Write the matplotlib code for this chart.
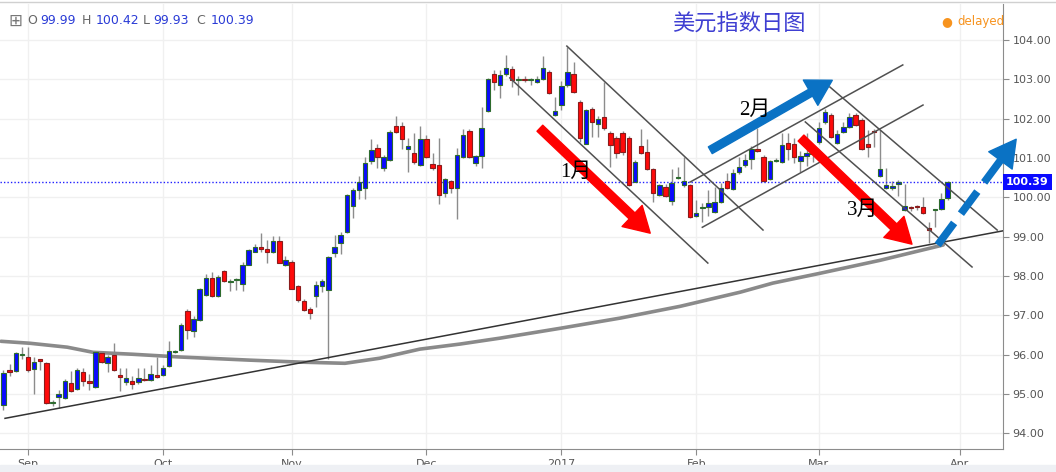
import matplotlib
matplotlib.use("Agg")
import matplotlib.pyplot as plt
import numpy as np
from matplotlib.lines import Line2D
from matplotlib.patches import Rectangle
from matplotlib.transforms import blended_transform_factory

# weekday index, 0 = 2016-09-01, first candle is four weekdays earlier
first_day = -4
opens = [
    94.72, 95.60, 95.58, 96.00,
    95.94, 95.64, 95.88, 95.79, 94.78, 94.93, 94.90, 95.29, 95.12, 95.55,   # 0
    95.32, 95.18, 96.04, 95.78, 95.98, 95.47, 95.30, 95.32, 95.30, 95.38,   # 10
    95.35, 95.47, 95.48, 95.70, 96.08, 96.11, 97.11, 96.60, 96.88, 97.51,   # 20
    97.96, 97.49, 98.13, 97.86, 97.89, 97.81, 98.28, 98.62, 98.74, 98.68,   # 30
    98.60, 98.90, 98.28, 98.36, 97.75, 97.36, 97.16, 97.49, 97.75, 97.64,   # 40
    98.59, 98.83, 99.12, 99.78, 100.20, 100.25, 100.93, 101.26, 100.74, 100.95,  # 50
    101.81, 101.81, 101.24, 101.13, 100.82, 101.48, 100.85, 100.82, 100.10, 100.42,  # 60
    100.23, 101.03, 101.69, 100.87, 101.05, 102.20, 103.15, 102.87, 103.13, 103.26,  # 70
    102.98, 103.02, 102.99, 102.94, 103.01, 103.20, 102.09, 102.35, 102.86, 103.15,  # 80
    102.42, 101.37, 102.26, 101.86, 102.05, 101.65, 101.50, 101.63, 101.52, 100.40,  # 90
    101.32, 101.15, 100.71, 100.06, 100.27, 99.91, 100.49, 100.31, 100.31, 99.52,   # 100
    99.74, 99.76, 99.63, 99.89, 100.42, 100.21, 100.65, 100.82, 100.97, 101.24,     # 110
    101.03, 100.46, 100.93, 100.91, 101.39, 101.36, 100.93, 101.05, 101.10, 101.41,  # 120
    101.92, 102.09, 101.39, 101.67, 101.78, 102.09, 101.98, 101.37, 101.70, 100.54,  # 130
    100.23, 100.25, 100.34, 99.68, 99.75, 99.77, 99.76, 99.22, 99.67, 99.70,        # 140
    99.99,                                                                           # 150
]
highs = [
    95.60, 95.75, 96.08, 96.20,
    96.20, 95.94, 95.90, 95.82, 94.85, 95.10, 95.38, 95.58, 95.66, 95.66,
    95.50, 96.07, 96.08, 96.00, 96.30, 95.66, 95.66, 95.45, 95.66, 95.66,
    95.74, 95.95, 95.74, 96.35, 96.12, 96.80, 97.17, 96.98, 97.70, 98.06,
    98.10, 98.03, 98.15, 97.92, 97.95, 98.36, 98.70, 98.81, 99.10, 98.91,
    99.02, 99.02, 98.50, 98.42, 97.78, 97.42, 97.20, 97.87, 97.93, 98.52,
    99.04, 99.12, 100.08, 100.23, 100.55, 101.02, 101.48, 101.37, 101.08, 101.72,
    102.07, 101.92, 101.50, 101.63, 101.81, 101.59, 101.12, 101.50, 100.49, 100.44,
    101.25, 101.73, 101.75, 101.08, 102.30, 103.05, 103.24, 103.24, 103.62, 103.35,
    103.10, 103.10, 103.04, 103.10, 103.60, 103.25, 102.56, 102.96, 103.83, 103.45,
    102.48, 102.26, 102.31, 102.07, 102.94, 101.70, 101.55, 101.69, 101.57, 100.95,
    101.74, 101.48, 100.74, 100.35, 100.33, 100.72, 100.77, 101.03, 100.33, 99.93,
    99.85, 100.19, 100.27, 100.36, 100.63, 100.72, 101.03, 101.10, 101.32, 101.76,
    101.07, 100.95, 100.99, 101.63, 101.63, 101.50, 101.17, 101.63, 101.30, 101.93,
    102.24, 102.14, 101.71, 101.93, 102.14, 102.15, 102.01, 101.71, 101.74, 101.71,
    100.74, 100.42, 100.45, 100.34, 99.78, 99.81, 100.00, 99.38, 99.71, 100.10,
    100.42,
]
lows = [
    94.59, 95.45, 95.55, 95.90,
    95.56, 95.00, 95.60, 94.74, 94.70, 94.65, 94.88, 95.05, 95.10, 95.20,
    95.10, 95.16, 95.78, 95.55, 95.58, 95.08, 95.24, 95.12, 95.26, 95.33,
    95.33, 95.40, 95.46, 95.68, 96.05, 96.10, 96.41, 96.45, 96.86, 97.48,
    97.47, 97.47, 97.86, 97.62, 97.65, 97.63, 98.27, 98.60, 98.60, 98.34,
    98.58, 98.32, 98.26, 97.66, 97.35, 97.11, 96.90, 97.22, 97.60, 95.90,
    98.49, 98.55, 99.10, 99.47, 99.96, 99.96, 100.86, 100.74, 100.66, 100.93,
    101.64, 101.23, 100.65, 100.86, 100.80, 101.01, 100.70, 99.83, 100.00, 100.10,
    99.44, 101.01, 101.00, 100.80, 100.74, 102.18, 102.73, 102.52, 103.10, 102.80,
    102.60, 102.94, 102.86, 102.92, 102.99, 102.63, 102.07, 102.22, 102.82, 102.65,
    101.42, 101.35, 101.53, 101.53, 101.72, 100.78, 100.99, 101.08, 100.29, 100.38,
    101.10, 100.69, 99.89, 100.03, 100.00, 99.80, 100.46, 100.27, 99.47, 99.50,
    99.38, 99.52, 99.60, 99.85, 100.21, 100.20, 100.60, 100.78, 100.72, 101.15,
    100.40, 100.44, 100.91, 100.88, 100.96, 100.88, 100.65, 100.80, 100.90, 101.36,
    101.88, 101.50, 101.36, 101.63, 101.76, 101.82, 101.20, 101.03, 101.29, 100.51,
    100.21, 100.18, 100.03, 99.66, 99.66, 99.68, 99.59, 98.84, 99.25, 99.68,
    99.93,
]
closes = [
    95.54, 95.56, 96.03, 96.02,
    95.61, 95.82, 95.84, 94.77, 94.80, 94.99, 95.33, 95.08, 95.61, 95.33,
    95.29, 96.07, 95.82, 95.95, 95.61, 95.44, 95.40, 95.25, 95.40, 95.35,
    95.50, 95.42, 95.65, 96.10, 96.10, 96.75, 96.62, 96.90, 97.68, 97.94,
    97.49, 97.98, 97.88, 97.88, 97.91, 98.28, 98.66, 98.74, 98.70, 98.60,
    98.89, 98.34, 98.42, 97.68, 97.39, 97.13, 97.05, 97.78, 97.87, 98.49,
    98.74, 99.04, 100.06, 100.20, 100.40, 100.87, 101.20, 101.03, 101.03, 101.67,
    101.67, 101.48, 101.31, 100.91, 101.48, 101.03, 100.74, 100.06, 100.47, 100.23,
    101.08, 101.59, 101.02, 101.05, 101.76, 103.01, 102.94, 103.11, 103.28, 102.98,
    103.02, 102.98, 103.00, 103.01, 103.28, 102.65, 102.20, 102.84, 103.20, 102.69,
    101.50, 102.22, 101.91, 101.99, 101.76, 101.33, 101.14, 101.16, 100.31, 100.91,
    101.14, 100.71, 100.12, 100.31, 100.03, 100.37, 100.51, 100.42, 99.51, 99.61,
    99.76, 99.85, 99.89, 100.23, 100.25, 100.63, 100.78, 100.95, 101.22, 101.19,
    100.42, 100.93, 100.96, 101.33, 101.22, 101.03, 101.05, 101.13, 101.14, 101.76,
    102.18, 101.53, 101.61, 101.78, 102.04, 101.84, 101.22, 101.29, 101.66, 100.71,
    100.31, 100.29, 100.40, 99.78, 99.72, 99.75, 99.61, 99.17, 99.70, 99.97,
    100.39,
]

last_ohlc = [99.99, 100.42, 99.93, 100.39]
month_pos = [0, 22, 43, 65, 87, 109, 129, 152]
month_labels = ["Sep", "Oct", "Nov", "Dec", "2017", "Feb", "Mar", "Apr"]
price_ticks = [94, 95, 96, 97, 98, 99, 100, 101, 102, 103, 104]

# long moving average
ma_days = [-4.4, 0.3, 6.4, 10.6, 17.1, 24.8, 36.2, 44.4, 51.7, 57.4, 63.9,
           70.5, 77.0, 86.8, 96.6, 106.4, 116.2, 121.5, 129.2, 139.0, 149.3]
ma_values = [96.34, 96.29, 96.19, 96.06, 96.01, 95.94, 95.86, 95.81, 95.78, 95.91, 96.14,
             96.27, 96.42, 96.67, 96.93, 97.23, 97.59, 97.82, 98.07, 98.40, 98.79]

# hand drawn lines (day, price)
trend_x, trend_y = [-3.75, 159.05], [94.38, 99.15]
channel_x = [[87.9, 119.9], [78.6, 110.9], [108.0, 142.7],
             [110.0, 146.0], [130.8, 158.1], [126.8, 154.0]]
channel_y = [[103.85, 99.17], [103.04, 98.33], [100.39, 103.37],
             [99.24, 102.35], [102.81, 99.17], [101.92, 98.23]]
arrows_red = [((83.5, 101.76), (101.5, 99.09)), ((126.1, 101.51), (144.2, 98.81))]
arrow_blue = ((111.3, 101.20), (131.2, 102.98))
arrow_dash = ((148.4, 98.79), (161.2, 101.48))
month_notes = [("1月", 89.4, 100.64), ("2月", 118.6, 102.22), ("3月", 136.2, 99.68)]

W, H = 1056, 472
fig = plt.figure(figsize=(W / 100, H / 100), dpi=100)
ax = fig.add_axes([0, 23 / H, 1003 / W, (468 - 23) / H])
ax.set_xlim(-4.57, 159.05)
ax.set_ylim(93.60, 104.92)

days = np.arange(first_day, first_day + len(opens))
o = np.array(opens)
c = np.array(closes)
up = c >= o
fill = np.where(up, "#0a0aff", "#ff0a0a")
edge = np.where(up, "#2d6b2d", "#8a1c1c")
ax.vlines(days, lows, highs, color="#8c8c8c", lw=1, zorder=2)
ax.bar(days, np.maximum(np.abs(c - o), 0.025), bottom=np.minimum(o, c), width=0.72,
       color=fill, edgecolor=edge, linewidth=0.8, zorder=3)

ax.plot(ma_days, ma_values, color="#8a8a8a", lw=2.6, zorder=2.5, solid_capstyle="round")
ax.plot(trend_x, trend_y, color="#333333", lw=1.1, zorder=4)
for xs, ys in zip(channel_x, channel_y):
    ax.plot(xs, ys, color="#505050", lw=1.1, zorder=4)

ax.axhline(last_ohlc[3], color="#2020ff", lw=1, ls=(0, (1, 1.5)), zorder=2)

for tail, tip in arrows_red:
    ax.annotate("", xy=tip, xytext=tail,
                arrowprops=dict(arrowstyle="simple,head_length=0.9,head_width=1.05,tail_width=0.3",
                                mutation_scale=20, color="#ff0000", shrinkA=0, shrinkB=0), zorder=6)
ax.annotate("", xy=arrow_blue[1], xytext=arrow_blue[0],
            arrowprops=dict(arrowstyle="simple,head_length=0.9,head_width=1.05,tail_width=0.28",
                            mutation_scale=20, color="#0a72c4", shrinkA=0, shrinkB=0), zorder=6)

# dashed arrow: dashed shaft plus a separate head
(tx, ty), (hx, hy) = arrow_dash
mx, my = tx + 0.8 * (hx - tx), ty + 0.8 * (hy - ty)
ax.plot([tx, mx], [ty, my], color="#0a72c4", lw=5.5, ls=(0, (3.6, 1.5)),
        solid_capstyle="butt", dash_capstyle="butt", zorder=6, clip_on=False)
ax.annotate("", xy=(hx, hy), xytext=(mx, my), annotation_clip=False,
            arrowprops=dict(arrowstyle="simple,head_length=0.95,head_width=1.05,tail_width=0.01",
                            mutation_scale=20, color="#0a72c4", shrinkA=0, shrinkB=0), zorder=6)

for txt, x, y in month_notes:
    ax.text(x, y, txt, fontsize=15, ha="center", va="center", color="black",
            family=["Liberation Serif", "Noto Sans CJK SC"], zorder=7)

# axes styling
for side in ["top", "left"]:
    ax.spines[side].set_visible(False)
for side in ["right", "bottom"]:
    ax.spines[side].set_color("#8c8c8c")
ax.yaxis.tick_right()
ax.set_yticks(price_ticks)
ax.set_yticklabels([f"{v:.2f}" for v in price_ticks])
ax.set_xticks(month_pos)
ax.set_xticklabels(month_labels, family=["Liberation Sans Narrow", "DejaVu Sans"])
ax.tick_params(axis="both", colors="#8c8c8c", labelcolor="#555555", labelsize=8, length=4)
ax.tick_params(axis="y", pad=3)
ax.grid(color="#f0f0f0", lw=1)
ax.set_axisbelow(True)

# last price tag on the axis
tr = blended_transform_factory(ax.transAxes, ax.transData)
ax.text(1.003, last_ohlc[3], f"{last_ohlc[3]:.2f}", transform=tr, ha="left", va="center",
        fontsize=8, fontweight="bold", color="white", zorder=8, clip_on=False,
        bbox=dict(boxstyle="square,pad=0.25", fc="#0a0aff", ec="none"))

# header texts
fig.add_artist(Line2D([0, 1], [1 - 2 / H, 1 - 2 / H], color="#d0d0d0", lw=1))
fig.patches.append(Rectangle((0, 0), 1, 7 / H, transform=fig.transFigure,
                             color="#eef0f4", zorder=0))
fig.text(8 / W, 1 - 21 / H, "⊞", fontsize=12, color="#777777", ha="left", va="center")
parts = [("O", 27, "#666666"), (f"{last_ohlc[0]:.2f}", 40, "#2a3bd6"),
         ("H", 82, "#666666"), (f"{last_ohlc[1]:.2f}", 96, "#2a3bd6"),
         ("L", 143, "#666666"), (f"{last_ohlc[2]:.2f}", 153, "#2a3bd6"),
         ("C", 196, "#666666"), (f"{last_ohlc[3]:.2f}", 211, "#2a3bd6")]
for s, px, col in parts:
    fig.text(px / W, 1 - 21 / H, s, fontsize=9, color=col, ha="left", va="center")
fig.text(739 / W, 1 - 24 / H, "美元指数日图", fontsize=16, color="#3f3fd2",
         ha="center", va="center", family=["Noto Sans CJK SC", "DejaVu Sans"])
fig.text(947 / W, 1 - 22 / H, "●", fontsize=9, color="#f7931e", ha="center", va="center")
fig.text(957 / W, 1 - 22 / H, "delayed", fontsize=8.5, color="#f7931e", ha="left", va="center")

fig.savefig("out.png", dpi=100)
